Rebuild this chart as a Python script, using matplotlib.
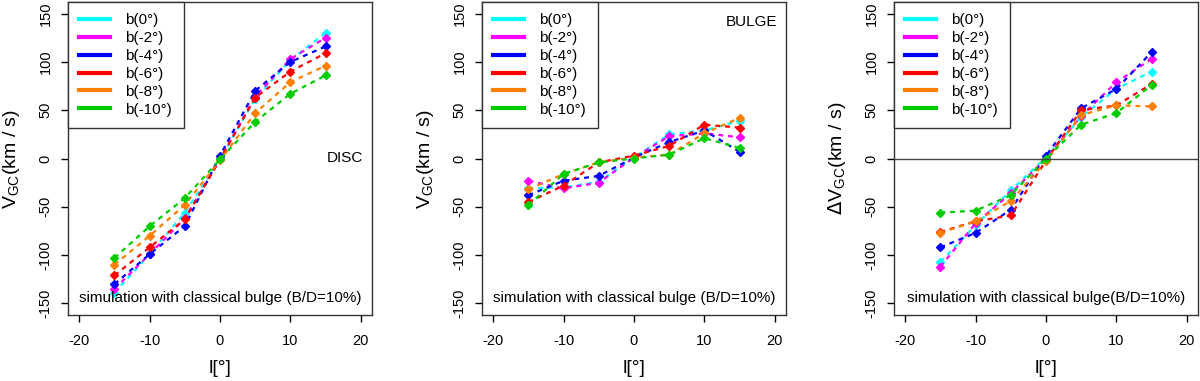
import matplotlib
matplotlib.use('Agg')
import matplotlib.pyplot as plt

plt.rcParams['font.family'] = ['Liberation Sans', 'DejaVu Sans']
plt.rcParams['axes.unicode_minus'] = False

lon = [-15, -10, -5, 0, 5, 10, 15]
lat_labels = ['b(0°)', 'b(-2°)', 'b(-4°)', 'b(-6°)', 'b(-8°)', 'b(-10°)']
colors = ['#00FFFF', '#FF00FF', '#0000FF', '#FF0000', '#FF7F00', '#00CD00']

# disc stars
disc = [
    [-139, -99, -56, -1, 62, 102, 130],
    [-135, -99, -62, -1, 64, 103, 125],
    [-130, -99, -70, 3, 70, 100, 116],
    [-121, -92, -63, -1, 63, 90, 109],
    [-110, -80, -48, -2, 47, 79, 96],
    [-103, -70, -41, -1, 38, 67, 86],
]
# bulge stars
bulge = [
    [-31, -30, -24, 1, 25, 29, 39],
    [-23, -31, -25, 1, 23, 26, 22],
    [-38, -23, -18, 1, 17, 29, 7],
    [-45, -28, -4, 3, 13, 35, 32],
    [-32, -16, -4, 1, 4, 26, 42],
    [-48, -16, -4, 0, 4, 21, 11],
]
# disc - bulge
delta = [
    [-107, -69, -33, 1, 43, 72, 90],
    [-112, -67, -36, 0, 44, 79, 103],
    [-92, -77, -53, 3, 52, 72, 110],
    [-76, -65, -59, -2, 50, 55, 77],
    [-77, -65, -44, -3, 45, 55, 54],
    [-56, -54, -38, 0, 35, 47, 76],
]

fig = plt.figure(figsize=(12, 3.81), dpi=100)
W, H = 1200, 381
lefts = [68, 482, 894]
bot, top = 315, 2
axes = [fig.add_axes([l / W, 1 - bot / H, 304 / W, (bot - top) / H]) for l in lefts]

ylabels = [r'V$_{\mathregular{GC}}$(km / s)', r'V$_{\mathregular{GC}}$(km / s)',
           r'$\Delta$V$_{\mathregular{GC}}$(km / s)']
notes = ['simulation with classical bulge (B/D=10%)',
         'simulation with classical bulge (B/D=10%)',
         'simulation with classical bulge(B/D=10%)']

for ax, data, ylab, note in zip(axes, [disc, bulge, delta], ylabels, notes):
    for vals, c, lab in zip(data, colors, lat_labels):
        ax.plot(lon, vals, color=c, ls=(0, (2.2, 2.2)), lw=1.6, marker='D', ms=4.3,
                mec=c, mfc=c, label=lab)
    ax.set_xlim(-21.6, 21.6)
    ax.set_ylim(-162, 162)
    ax.set_xticks([-20, -10, 0, 10, 20])
    ax.set_yticks([-150, -100, -50, 0, 50, 100, 150])
    ax.tick_params(direction='out', length=5, width=1, labelsize=10.5)
    ax.tick_params(axis='x', pad=9)
    ax.tick_params(axis='y', pad=6)
    for t in ax.get_yticklabels():
        t.set_rotation(90)
        t.set_va('center')
    for s in ax.spines.values():
        s.set_linewidth(1)
        s.set_color('#333333')
    ax.set_xlabel('l[°]', fontsize=14)
    ax.xaxis.set_label_coords(0.5, -0.143)
    ax.set_ylabel(ylab, fontsize=14)
    ax.yaxis.set_label_coords(-0.152, 0.5)
    ax.text(0.5, 0.055, note, transform=ax.transAxes, ha='center', va='center', fontsize=11)

    # legend with solid thick lines, no markers
    handles = [plt.Line2D([], [], color=c, lw=3) for c in colors]
    leg = ax.legend(handles, lat_labels, loc='upper left', borderaxespad=0, fontsize=11,
                    fancybox=False, framealpha=1, edgecolor='#333333',
                    handlelength=2.0, handletextpad=1.0, labelspacing=0.25,
                    borderpad=0.75)
    leg.get_frame().set_linewidth(1)

axes[0].text(0.97, 0.5, 'DISC', transform=axes[0].transAxes, ha='right', va='center', fontsize=11)
axes[1].text(0.97, 0.935, 'BULGE', transform=axes[1].transAxes, ha='right', va='center', fontsize=11)
axes[2].axhline(0, color='#444444', lw=1)

fig.savefig('out.png', dpi=100)
